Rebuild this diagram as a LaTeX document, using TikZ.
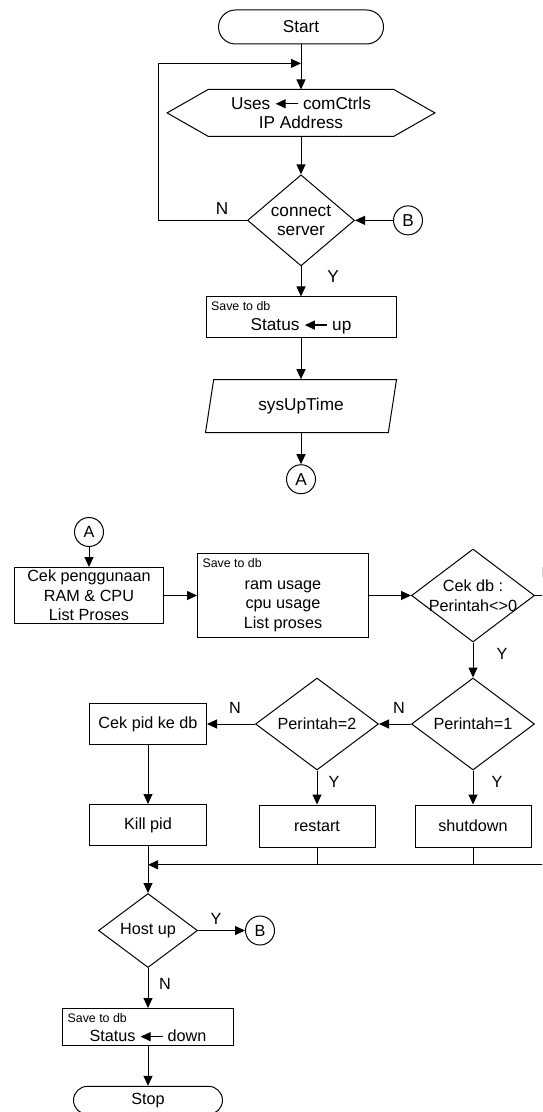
\documentclass[tikz,border=0pt]{standalone}
\usepackage{fontspec}
\setmainfont{Liberation Sans}
\usepackage{tikz}
\usetikzlibrary{arrows.meta,positioning,shapes.geometric,shapes.misc,calc}

\newcommand{\bigtxt}{\fontsize{8.6pt}{9.8pt}\selectfont}
\newcommand{\midtxt}{\fontsize{8.1pt}{9.8pt}\selectfont}
\newcommand{\savetxt}{\fontsize{6.2pt}{7pt}\selectfont}
\newcommand{\lowstrut}{\rule{0pt}{15pt}}
\newcommand{\getarrow}{\tikz[baseline=-0.6ex]\draw[line width=0.6pt,-{Triangle[length=5pt,width=4.5pt]}] (11pt,0pt) -- (0pt,0pt);}

\begin{document}
\begin{tikzpicture}[
  x=0.5pt, y=-0.5pt,
  line width=0.5pt,
  >={Triangle[length=5pt,width=4.5pt]},
  font=\midtxt,
  terminal/.style={rounded rectangle, draw, minimum width=82.5pt, minimum height=17pt, inner sep=0pt},
  proc/.style={rectangle, draw, minimum width=58.5pt, minimum height=20.5pt, inner sep=0pt, align=center},
  savebox/.style={proc, label={[anchor=north west, inner sep=0pt, font=\savetxt, xshift=2.5pt, yshift=-2.5pt]north west:Save to db}},
  hexbox/.style={rectangle, minimum width=133.5pt, minimum height=23pt, inner sep=0pt, align=center},
  iobox/.style={trapezium, draw, trapezium left angle=63, trapezium right angle=117, trapezium stretches body=true, minimum width=95.5pt, minimum height=26.5pt, inner sep=0pt},
  decision/.style={diamond, draw, inner sep=0pt, align=center, minimum width=61.5pt, minimum height=46pt},
  conn/.style={circle, draw, inner sep=0pt, minimum size=14.5pt},
  lbl/.style={inner sep=0pt}
]
\useasboundingbox (0,0) rectangle (542,1112);
\clip (0,0) rectangle (542,1112);
\coordinate (offR) at (560,0);

% Connection part
\begin{scope}[every node/.append style={font=\bigtxt}]
\node[terminal] (start) at (301,27) {Start};
\node[hexbox, below=22.5pt of start] (uses) {Uses \getarrow\ comCtrls\\IP Address};
\draw ([xshift=20.5pt]uses.north west) -- ([xshift=-20.5pt]uses.north east) -- (uses.east)
  -- ([xshift=-20.5pt]uses.south east) -- ([xshift=20.5pt]uses.south west) -- (uses.west) -- cycle;
\node[decision, minimum width=53.5pt, minimum height=40pt, below=19pt of uses] (connect) {connect\\server};
\node[conn, right=19pt of connect] (conB) {B};
\node[savebox, minimum width=95pt, below=15pt of connect] (save1) {\lowstrut Status \getarrow\ up};
\node[iobox, below=20.5pt of save1] (sysup) {sysUpTime};
\node[conn, below=15.5pt of sysup] (conA) {A};

\coordinate (loopin) at ($(start.south)!0.42!(uses.north)$);
\draw[->] (start.south) -- (uses.north);
\draw[->] (uses.south) -- (connect.north);
\draw[->] (connect.south) -- (save1.north);
\draw[->] (save1.south) -- (sysup.north);
\draw[->] (sysup.south) -- (conA.north);
\draw[->] (conB.west) -- (connect.east);
\draw[->] (connect.west) -- ++(-89,0) |- (loopin);
\node[lbl] at ([shift={(-25,-12)}]connect.west) {N};
\node[lbl] at ([shift={(32,10)}]connect.south) {Y};
\end{scope}

% Monitoring part
\node[conn] (conA2) at (89,532) {A};
\node[proc, minimum width=74.5pt, minimum height=28pt, below=10pt of conA2] (cekuse) {Cek penggunaan\\RAM \& CPU\\List Proses};
\node[savebox, minimum width=85.5pt, minimum height=42pt, right=16.5pt of cekuse] (save2) {\lowstrut ram usage\\cpu usage\\List proses};
\node[decision, minimum height=46.5pt, right=21pt of save2] (cekdb) {\makebox[0pt]{Cek db :}\\\makebox[0pt]{Perintah<>0}};
\node[decision, below=17.5pt of cekdb] (per1) {Perintah=1};
\node[decision, left=16pt of per1] (per2) {Perintah=2};
\node[proc, left=24pt of per2] (cekpid) {Cek pid ke db};
\node[proc, below=29.5pt of cekpid] (killpid) {Kill pid};
\node[proc, minimum width=58pt, minimum height=21pt, below=17pt of per2] (restart) {restart};
\node[proc, minimum width=58pt, minimum height=21pt, below=17pt of per1] (shutdown) {shutdown};
\node[decision, minimum width=49.5pt, minimum height=37pt, below=23.5pt of killpid] (hostup) {Host up};
\node[conn, right=23.5pt of hostup] (conB2) {B};
\node[savebox, minimum width=85.5pt, minimum height=18.5pt, below=20pt of hostup] (save3) {\lowstrut Status \getarrow\ down};
\node[terminal, minimum width=74.5pt, minimum height=14pt, below=20pt of save3] (stop) {Stop};

\coordinate (merge) at ($(killpid.south)!0.4!(hostup.north)$);
\draw[->] (conA2.south) -- (cekuse.north);
\draw[->] (cekuse.east) -- (save2.west);
\draw[->] (save2.east) -- (cekdb.west);
\draw (cekdb.east) -- (cekdb.east -| offR);
\draw[->] (cekdb.south) -- (per1.north);
\draw[->] (per1.west) -- (per2.east);
\draw[->] (per2.west) -- (cekpid.east);
\draw[->] (per2.south) -- (restart.north);
\draw[->] (per1.south) -- (shutdown.north);
\draw[->] (cekpid.south) -- (killpid.north);
\draw (restart.south) -- (restart.south |- merge);
\draw (shutdown.south) -- (shutdown.south |- merge);
\draw[->] (merge -| offR) -- (merge);
\draw[->] (killpid.south) -- (hostup.north);
\draw[->] (hostup.east) -- (conB2.west);
\draw[->] (hostup.south) -- (save3.north);
\draw[->] (save3.south) -- (stop.north);

\node[lbl, anchor=west] at ([shift={(6,-23)}]cekdb.east) {N};
\node[lbl] at ([shift={(29,11)}]cekdb.south) {Y};
\node[lbl] at ([shift={(-12,-16)}]per1.west) {N};
\node[lbl] at ([shift={(24,11)}]per1.south) {Y};
\node[lbl] at ([shift={(-20,-16)}]per2.west) {N};
\node[lbl] at ([shift={(17,11)}]per2.south) {Y};
\node[lbl] at ([shift={(18,-12)}]hostup.east) {Y};
\node[lbl] at ([shift={(17,16)}]hostup.south) {N};
\end{tikzpicture}
\end{document}
